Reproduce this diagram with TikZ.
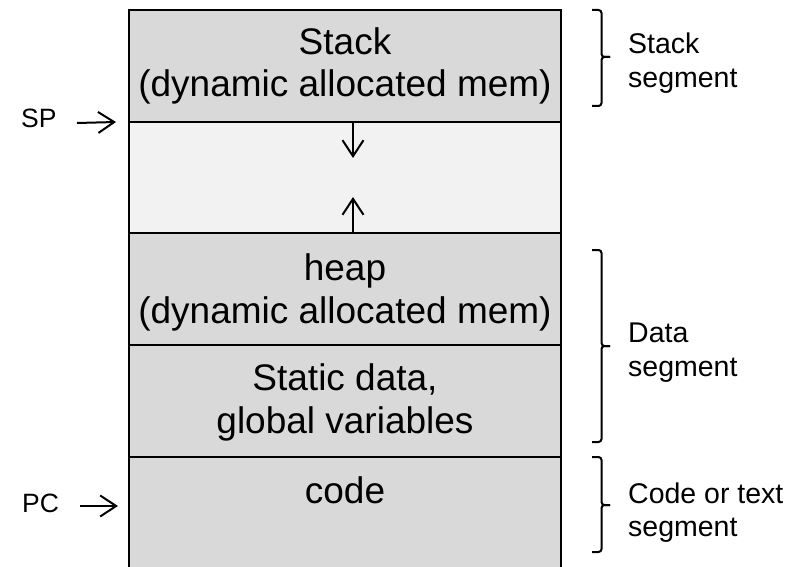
\documentclass[tikz,border=0pt]{standalone}
\usepackage{fontspec}
\setmainfont{Liberation Sans}
\usetikzlibrary{arrows.meta}
\definecolor{segfill}{HTML}{D9D9D9}
\definecolor{freefill}{HTML}{F2F2F2}
\begin{document}
\begin{tikzpicture}[x=1pt,y=-1pt,
  seg/.style={draw=black, line width=2.2pt, fill=segfill, minimum width=432pt, inner sep=0pt, outer sep=0pt},
  txt/.style={font=\fontsize{37}{43}\selectfont, inner sep=0pt, anchor=base},
  lab/.style={font=\fontsize{28.5}{34}\selectfont, inner sep=0pt, anchor=base west},
  ptr/.style={font=\fontsize{26.5}{30}\selectfont, inner sep=0pt, anchor=base west},
  arr/.style={line width=2pt, -{Straight Barb[length=16pt,width=21pt]}},
  brk/.style={line width=2pt, rounded corners=3pt}]
\useasboundingbox (0,0) rectangle (801,567);
% segments
\node[seg, minimum height=112pt] (stack) at (345,66) {};
\node[seg, fill=freefill, minimum height=111pt] (free) at (345,177.5) {};
\node[seg, minimum height=112pt] (heap) at (345,289) {};
\node[seg, minimum height=112pt] (static) at (345,401) {};
\node[seg, minimum height=123pt] (code) at (345,518.5) {};
% texts
\node[txt] (stackA) at (345,55) {Stack};
\node[txt] (stackB) at (345,97) {(dynamic allocated mem)};
\node[txt] (heapA) at (345,280) {heap};
\node[txt] (heapB) at (345,323) {(dynamic allocated mem)};
\node[txt] (staticA) at (345,390) {Static data,};
\node[txt] (staticB) at (345,433) {global variables};
\node[txt] (codeA) at (345,503) {code};
% growth arrows
\draw[arr] ([xshift=8pt]stack.south) -- ++(0,36);
\draw[arr] ([xshift=8pt]heap.north) -- ++(0,-36);
% pointers
\node[ptr] (sp) at (21,128) {SP};
\node[ptr] (pc) at (22,512) {PC};
\coordinate (spS) at (77,123);
\coordinate (pcS) at (80,506);
\coordinate (pcE) at (118,506);
\draw[arr] (spS) -- ([xshift=-13pt]stack.south west);
\draw[arr] (pcS) -- (pcE);
% brackets
\draw[brk] (592,10) -| (601.5,57) -- (610,57);
\draw[brk] (610,57) -- (601.5,57) |- (592,106);
\draw[brk] (592,250) -| (601.5,346) -- (610,346);
\draw[brk] (610,346) -- (601.5,346) |- (592,442);
\draw[brk] (592,457) -| (601.5,505) -- (610,505);
\draw[brk] (610,505) -- (601.5,505) |- (592,552);
% segment labels
\node[lab] (lstackA) at (628,54) {Stack};
\node[lab] (lstackB) at (628,88) {segment};
\node[lab] (ldataA) at (628,342) {Data};
\node[lab] (ldataB) at (628,376) {segment};
\node[lab] (lcodeA) at (628,503) {Code or text};
\node[lab] (lcodeB) at (628,536) {segment};
\end{tikzpicture}
\end{document}
